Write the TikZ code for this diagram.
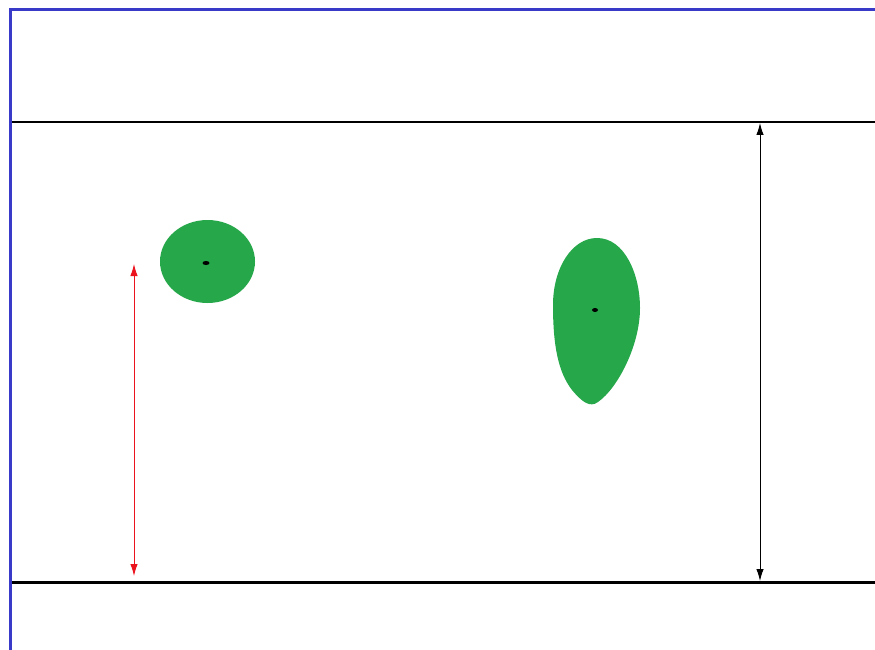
\documentclass[tikz,border=0pt]{standalone}
\usetikzlibrary{arrows.meta,shapes.geometric}
\definecolor{framecol}{RGB}{58,58,200}
\definecolor{blobgreen}{RGB}{38,168,74}
\definecolor{arrred}{RGB}{235,20,30}
\tikzset{
  dimarrow/.style={line width=1pt,{Latex[length=12pt,width=7.5pt]}-{Latex[length=12pt,width=7.5pt]}},
  boundary/.style={black},
  blob/.style={fill=blobgreen,draw=none},
  centerdot/.style={fill=black,draw=none}
}
\begin{document}
\begin{tikzpicture}[x=1pt,y=-1pt]
\useasboundingbox (0,0) rectangle (875,650);
\fill[white] (0,0) rectangle (875,650);
% frame
\draw[framecol,line width=3.5pt] (10.5,650) -- (10.5,9.5) -- (875,9.5);
% channel walls
\coordinate (tl) at (12,122);
\coordinate (tr) at (875,122);
\coordinate (bl) at (12,582);
\coordinate (br) at (875,582);
\draw[boundary,line width=2pt] (tl) -- (tr);
\draw[boundary,line width=3pt] (bl) -- (br);
% blob 1
\node[blob,ellipse,minimum width=95pt,minimum height=83pt,inner sep=0pt] (b1) at (207.5,261.5) {};
\fill[centerdot] (206,263) ellipse (3.5 and 2);
% blob 2
\coordinate (b2) at (595,310);
\fill[blob] (597,238) .. controls (625,238) and (640,275) .. (640,308)
  .. controls (640,345) and (618,388) .. (598,402)
  .. controls (590,408) and (582,402) .. (572,390)
  .. controls (558,372) and (553,345) .. (553,305)
  .. controls (553,268) and (572,238) .. (597,238) -- cycle;
\fill[centerdot] (b2) ellipse (3 and 2);
% arrows
\coordinate (ra) at (134,264);
\coordinate (rb) at (134,576);
\draw[dimarrow,arrred] (ra) -- (rb);
\coordinate (ka) at (760,123);
\coordinate (kb) at (760,581);
\draw[dimarrow,black] (ka) -- (kb);
\end{tikzpicture}
\end{document}
